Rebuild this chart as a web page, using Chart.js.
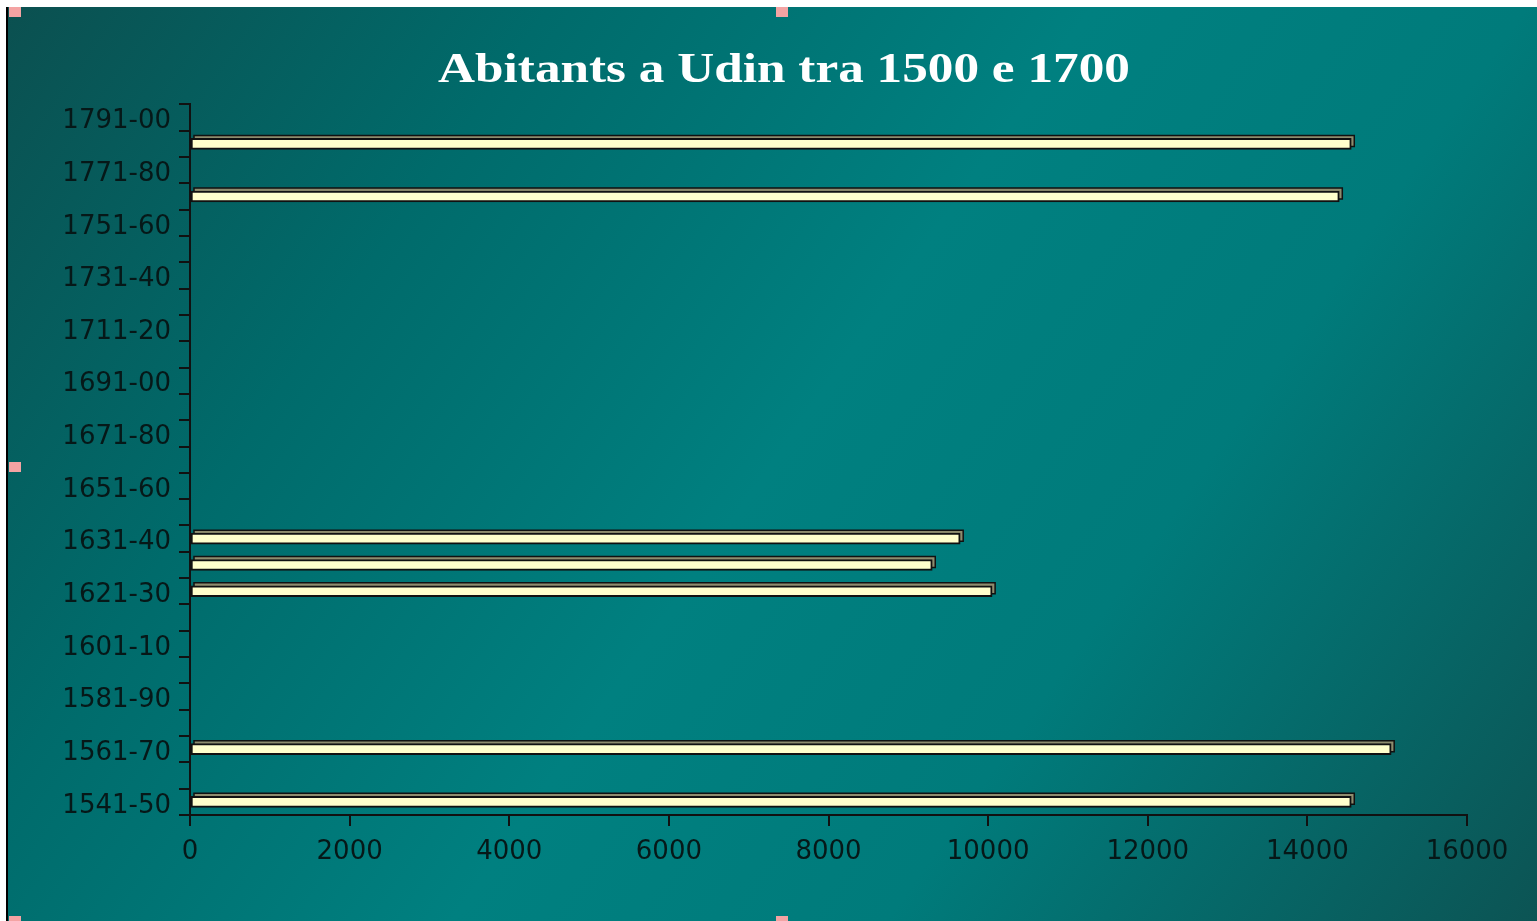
<!DOCTYPE html>
<html>
<head>
<meta charset="utf-8">
<script src="https://cdn.jsdelivr.net/npm/chart.js@4"></script>
<style>
body{margin:0;background:#fff;width:1537px;height:921px;overflow:hidden;position:relative;}
#wrap{position:absolute;left:6px;top:7px;width:1529px;height:914px;border-left:2px solid #000;
background:linear-gradient(125deg,#0b5050 0%,#006b6b 25%,#008080 50%,#007b7b 70%,#0c5454 100%);}
.h{position:absolute;width:12px;height:10px;background:#f4a3a3;}
</style>
</head>
<body>
<div id="wrap"><canvas id="c" width="1529" height="914"></canvas></div>
<div class="h" style="left:9px;top:7px"></div>
<div class="h" style="left:776px;top:7px"></div>
<div class="h" style="left:9px;top:462px"></div>
<div class="h" style="left:776px;top:916px"></div>
<div class="h" style="left:9px;top:916px"></div>
<script>
let decades=["1541-50","1551-60","1561-70","1571-80","1581-90","1591-00","1601-10","1611-20","1621-30","1630","1631-40","1641-50","1651-60","1661-70","1671-80","1681-90","1691-00","1701-10","1711-20","1721-30","1731-40","1741-50","1751-60","1761-70","1771-80","1781-90","1791-00"];
let abitants=[14550,null,15050,null,null,null,null,null,10050,9300,9650,null,null,null,null,null,null,null,null,null,null,null,null,14400,null,14550,null];
let xticks=[0,2000,4000,6000,8000,10000,12000,14000,16000];
let titleText='Abitants a Udin tra 1500 e 1700';

// small 3D side for every bar
const depth={
  id:'depth',
  beforeDatasetsDraw(chart){
    const ctx=chart.ctx;
    const d=3;
    chart.getDatasetMeta(0).data.forEach(function(bar,i){
      if(abitants[i]==null) return;
      const h=bar.height;
      ctx.save();
      ctx.fillStyle='#8e8c6e';
      ctx.strokeStyle='#111';
      ctx.lineWidth=1.5;
      ctx.beginPath();
      ctx.rect(bar.base+d,bar.y-h/2-d,bar.x-bar.base,h);
      ctx.fill();ctx.stroke();
      ctx.restore();
    });
  }
};

// wide title (the built-in one only keeps the space)
const wideTitle={
  id:'wideTitle',
  afterDraw(chart){
    const ctx=chart.ctx;
    ctx.save();
    ctx.translate(776,64);
    ctx.scale(1.22,1);
    ctx.font='bold 42px "Liberation Serif"';
    ctx.fillStyle='#ffffff';
    ctx.textAlign='center';
    ctx.textBaseline='middle';
    ctx.fillText(titleText,0,0);
    ctx.restore();
  }
};

new Chart(document.getElementById('c'),{
  type:'bar',
  data:{
    labels:decades,
    datasets:[{
      data:abitants,
      backgroundColor:'#ffffcc',
      borderColor:'#111',
      borderWidth:2,
      borderSkipped:false,
      barThickness:11
    }]
  },
  options:{
    indexAxis:'y',
    responsive:false,
    animation:false,
    devicePixelRatio:1,
    layout:{padding:{left:0,right:70,top:0,bottom:0}},
    plugins:{
      legend:{display:false},
      tooltip:{enabled:false},
      title:{
        display:true,
        text:titleText,
        color:'rgba(0,0,0,0)',
        font:{family:'Liberation Serif',size:42,weight:'bold'},
        padding:{top:36,bottom:11}
      }
    },
    scales:{
      y:{
        reverse:true,
        grid:{drawOnChartArea:false,color:'#111',lineWidth:2,tickLength:11,offset:true},
        border:{color:'#111',width:2},
        ticks:{
          autoSkip:false,
          color:'#061818',
          padding:8,
          labelOffset:4,
          font:{family:'DejaVu Sans',size:26},
          callback:function(v,i){return i%2===0?this.getLabelForValue(v):'';}
        },
        afterFit:function(s){s.width=182;}
      },
      x:{
        min:0,max:16000,
        afterBuildTicks:function(s){s.ticks=xticks.map(function(v){return {value:v};});},
        grid:{drawOnChartArea:false,color:'#111',lineWidth:2,tickLength:11},
        border:{color:'#111',width:2},
        ticks:{color:'#061818',padding:11,font:{family:'DejaVu Sans',size:26},
          callback:function(v){return String(v);}},
        afterFit:function(s){s.height=106;}
      }
    }
  },
  plugins:[depth,wideTitle]
});
</script>
</body>
</html>
